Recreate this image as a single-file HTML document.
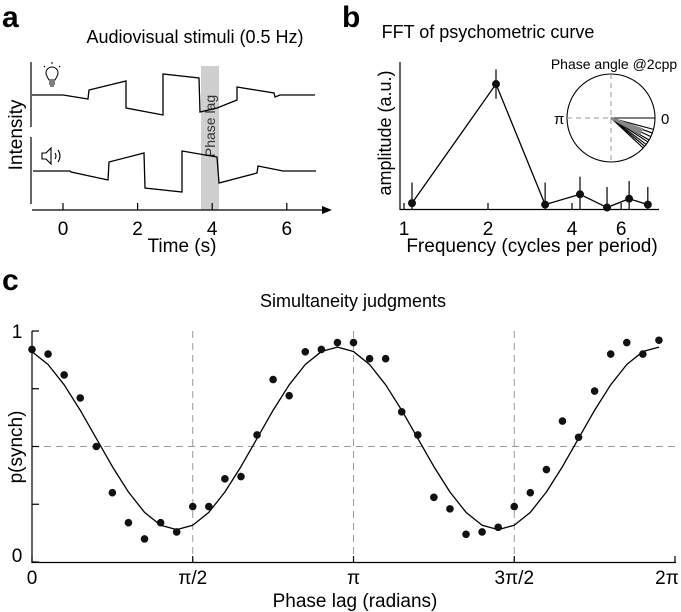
<!DOCTYPE html>
<html><head><meta charset="utf-8"><style>
body{margin:0;background:#fff}
svg{display:block;font-family:"Liberation Sans",Arial,sans-serif}
</style></head><body>
<svg id="fig" width="681" height="612" viewBox="0 0 681 612" xmlns="http://www.w3.org/2000/svg">
<g>
<text x="2" y="27" font-size="30" font-weight="bold">a</text>
<text x="195" y="43" font-size="18" text-anchor="middle">Audiovisual stimuli (0.5 Hz)</text>
<rect x="201" y="66" width="18" height="144" fill="#cfcfcf"/>
<text transform="translate(215,126) rotate(-90)" font-size="14" text-anchor="middle" fill="#333">Phase lag</text>
<line x1="31" y1="62" x2="31" y2="127" stroke="#000" stroke-width="1.2"/>
<line x1="31" y1="137" x2="31" y2="204" stroke="#000" stroke-width="1.2"/>
<line x1="32" y1="210" x2="325" y2="210" stroke="#000" stroke-width="1.2"/>
<polygon points="332,210 322,206 322,214" fill="#000"/>
<polyline points="32,95 63,95 88,99 89,90 126,81 126,108 163,115 163,74 199,78 200,112 217,108 237,100 237,87 274,93 275,97 280,95 315,95" fill="none" stroke="#000" stroke-width="1.3"/>
<polyline points="33,171 70,171 71,172 108,180 109,162 144,153 145,188 182,192 182,151 217,157 219,183 257,173 258,166 283,171 316,171" fill="none" stroke="#000" stroke-width="1.3"/>
<g fill="none" stroke="#000" stroke-width="1">
<path d="M49,80 Q46,75 46,73 A6,6 0 1 1 58,73 Q58,75 55,80 Z"/>
<line x1="49" y1="82" x2="55" y2="82"/><line x1="49" y1="84" x2="55" y2="84"/><line x1="50" y1="86" x2="54" y2="86"/>
<line x1="52" y1="62" x2="52" y2="64"/><line x1="44" y1="66" x2="45" y2="67"/><line x1="60" y1="66" x2="59" y2="67"/>
</g>
<g fill="none" stroke="#000" stroke-width="1.1">
<path d="M42,153 L46,153 L51,148 L51,164 L46,159 L42,159 Z"/>
<path d="M55,153 Q57,156 55,159"/><path d="M58,150 Q62,156 58,162"/>
</g>
<text transform="translate(22,135) rotate(-90)" font-size="19" text-anchor="middle">Intensity</text>
<g id="aTicks"></g>
<text x="182" y="252" font-size="19" text-anchor="middle">Time (s)</text>
</g>
<g>
<text x="342" y="27" font-size="30" font-weight="bold">b</text>
<text x="488" y="38" font-size="18" text-anchor="middle">FFT of psychometric curve</text>
<line x1="400" y1="62" x2="400" y2="210" stroke="#000" stroke-width="1.2"/>
<line x1="400" y1="209.5" x2="659" y2="209.5" stroke="#000" stroke-width="1.2"/>
<text transform="translate(391,133) rotate(-90)" font-size="18" text-anchor="middle">amplitude (a.u.)</text>
<text x="532" y="252" font-size="19" text-anchor="middle">Frequency (cycles per period)</text>
<g id="bMarks"></g>
<g>
<text x="614" y="69" font-size="14" text-anchor="middle">Phase angle @2cpp</text>
<circle cx="611" cy="118" r="44" fill="none" stroke="#000" stroke-width="1.1"/>
<line x1="567" y1="118" x2="655" y2="118" stroke="#999" stroke-dasharray="5,4"/>
<line x1="611" y1="74" x2="611" y2="162" stroke="#999" stroke-dasharray="5,4"/>
<text x="554" y="124" font-size="15">π</text>
<text x="661" y="124" font-size="15">0</text>
<g id="bPhase"></g>
</g>
</g>
<g>
<text x="2" y="290" font-size="30" font-weight="bold">c</text>
<text x="353" y="307" font-size="18" text-anchor="middle">Simultaneity judgments</text>
<g id="cGrid"></g>
<line x1="32" y1="331" x2="32" y2="563" stroke="#000" stroke-width="1.2"/>
<line x1="32" y1="562.5" x2="676" y2="562.5" stroke="#000" stroke-width="1.2"/>
<text transform="translate(22,447) rotate(-90)" font-size="19" text-anchor="middle">p(synch)</text>
<text x="355" y="607" font-size="19" text-anchor="middle">Phase lag (radians)</text>
<g id="cMarks"></g>
</g>
</svg>
<script>
const NS="http://www.w3.org/2000/svg";
function mk(tag,attrs,parent){const e=document.createElementNS(NS,tag);for(const k in attrs)e.setAttribute(k,attrs[k]);parent.appendChild(e);return e;}
const aTickVals=[0,2,4,6];
const aTicks=document.getElementById('aTicks');
const ax=t=>63+t*37.3;
aTickVals.forEach(t=>{
 const l=mk('line',{x1:ax(t),y1:203,x2:ax(t),y2:210,stroke:'#000','stroke-width':1.2},aTicks);
 
 
 const tx=mk('text',{x:ax(t),y:235,'font-size':19,'text-anchor':'middle'},aTicks);tx.textContent=t;
 
 
});
const fftFreq=[1,2,3,4,5,6,7];
const fftAmp=[0.04,0.85,0.03,0.10,0.01,0.07,0.03];
const fftErr=[0.14,0.10,0.15,0.12,0.14,0.12,0.12];
const fftTicks=[1,2,4,6];
const phaseAngles=[0,-15,-20,-25,-30,-33,-37,-40,-43];
const phaseGreyAngles=[-20,-24,-28];
const bx=f=>412+84*Math.log2(f);
const bxTick=f=>404+84*Math.log2(f);
const by=a=>209-a*147;
const bM=document.getElementById('bMarks');
fftTicks.forEach(t=>{
 const l=mk('line',{x1:bxTick(t),y1:203,x2:bxTick(t),y2:210,stroke:'#000','stroke-width':1.2},bM);
 
 
 const tx=mk('text',{x:bxTick(t),y:235,'font-size':19,'text-anchor':'middle'},bM);tx.textContent=t;
 
 
});
fftFreq.forEach((f,i)=>{
 const e=mk('line',{x1:bx(f),y1:by(fftAmp[i]+fftErr[i]),x2:bx(f),y2:Math.min(209,by(fftAmp[i]-fftErr[i])),stroke:'#000','stroke-width':1.2},bM);
 
 
});
const fl=mk('polyline',{points:fftFreq.map((f,i)=>bx(f)+','+by(fftAmp[i])).join(' '),fill:'none',stroke:'#000','stroke-width':1.3},bM);


fftFreq.forEach((f,i)=>{
 const c=mk('circle',{cx:bx(f),cy:by(fftAmp[i]),r:4,fill:'#111'},bM);
 
 
});
const bP=document.getElementById('bPhase');
phaseAngles.forEach(a=>{
 const r=a*Math.PI/180;
 const l=mk('line',{x1:611,y1:118,x2:611+44*Math.cos(r),y2:118-44*Math.sin(r),stroke:'#000','stroke-width':1.1},bP);
 
 
});
phaseGreyAngles.forEach(a=>{
 const r=a*Math.PI/180;
 const l=mk('line',{x1:611,y1:118,x2:611+34*Math.cos(r),y2:118-34*Math.sin(r),stroke:'#888','stroke-width':2.4},bP);
 
 
});
const cPhase=[0,0.05,0.1,0.15,0.2,0.25,0.3,0.35,0.4,0.45,0.5,0.55,0.6,0.65,0.7,0.75,0.8,0.85,0.9,0.95,1.0,1.05,1.1,1.15,1.2,1.25,1.3,1.35,1.4,1.45,1.5,1.55,1.6,1.65,1.7,1.75,1.8,1.85,1.9,1.95];
const cP=[0.92,0.90,0.81,0.71,0.50,0.30,0.17,0.10,0.17,0.13,0.24,0.24,0.36,0.37,0.55,0.79,0.72,0.91,0.92,0.95,0.95,0.88,0.88,0.65,0.55,0.28,0.23,0.12,0.13,0.15,0.24,0.30,0.40,0.61,0.54,0.74,0.90,0.95,0.90,0.96];
const fitPhase=[0,0.05,0.1,0.15,0.2,0.25,0.3,0.35,0.4,0.45,0.5,0.55,0.6,0.65,0.7,0.75,0.8,0.85,0.9,0.95,1.0,1.05,1.1,1.15,1.2,1.25,1.3,1.35,1.4,1.45,1.5,1.55,1.6,1.65,1.7,1.75,1.8,1.85,1.9,1.95];
const fitP=[0.91,0.855,0.767,0.657,0.535,0.413,0.303,0.215,0.159,0.14,0.159,0.215,0.303,0.413,0.535,0.657,0.767,0.855,0.911,0.93,0.911,0.855,0.767,0.657,0.535,0.413,0.303,0.215,0.159,0.14,0.159,0.215,0.303,0.413,0.535,0.657,0.767,0.855,0.911,0.93];
const cXTicks=[0,0.5,1,1.5,2];
const cXLabels=['0','π/2','π','3π/2','2π'];
const cYTicks=[0,0.25,0.5,0.75,1];
const cYLabels=['0','','','','1'];
const cx=p=>32+p/2*643;
const cy=v=>562-v*231;
const cG=document.getElementById('cGrid');
[0.5,1,1.5].forEach(p=>{
 const l=mk('line',{x1:cx(p),y1:331,x2:cx(p),y2:562,stroke:'#999','stroke-dasharray':'7,5','stroke-width':1},cG);
 
 
});
const hl=mk('line',{x1:32,y1:cy(0.5),x2:676,y2:cy(0.5),stroke:'#999','stroke-dasharray':'7,5','stroke-width':1},cG);


const cM=document.getElementById('cMarks');
cXTicks.forEach((t,i)=>{
 const l=mk('line',{x1:cx(t),y1:556,x2:cx(t),y2:563,stroke:'#000','stroke-width':1.2},cM);
 
 
 const tx=mk('text',{x:cx(t)+(i==4?-8:0),y:584,'font-size':19,'text-anchor':'middle'},cM);tx.textContent=cXLabels[i];
 
 
});
cYTicks.forEach((t,i)=>{
 const l=mk('line',{x1:32,y1:cy(t),x2:39,y2:cy(t),stroke:'#000','stroke-width':1.2},cM);
 
 
 if(cYLabels[i]){const tx=mk('text',{x:17,y:cy(t)+(t==0?0:7),'font-size':19,'text-anchor':'middle'},cM);tx.textContent=cYLabels[i];
 
 }
});
const fit=mk('polyline',{points:fitPhase.map((p,i)=>cx(p)+','+cy(fitP[i])).join(' '),fill:'none',stroke:'#000','stroke-width':1.3,'stroke-linejoin':'round'},cM);


cPhase.forEach((p,i)=>{
 const c=mk('circle',{cx:cx(p),cy:cy(cP[i]),r:3.8,fill:'#111'},cM);
 
 
});
</script>
</body></html>
